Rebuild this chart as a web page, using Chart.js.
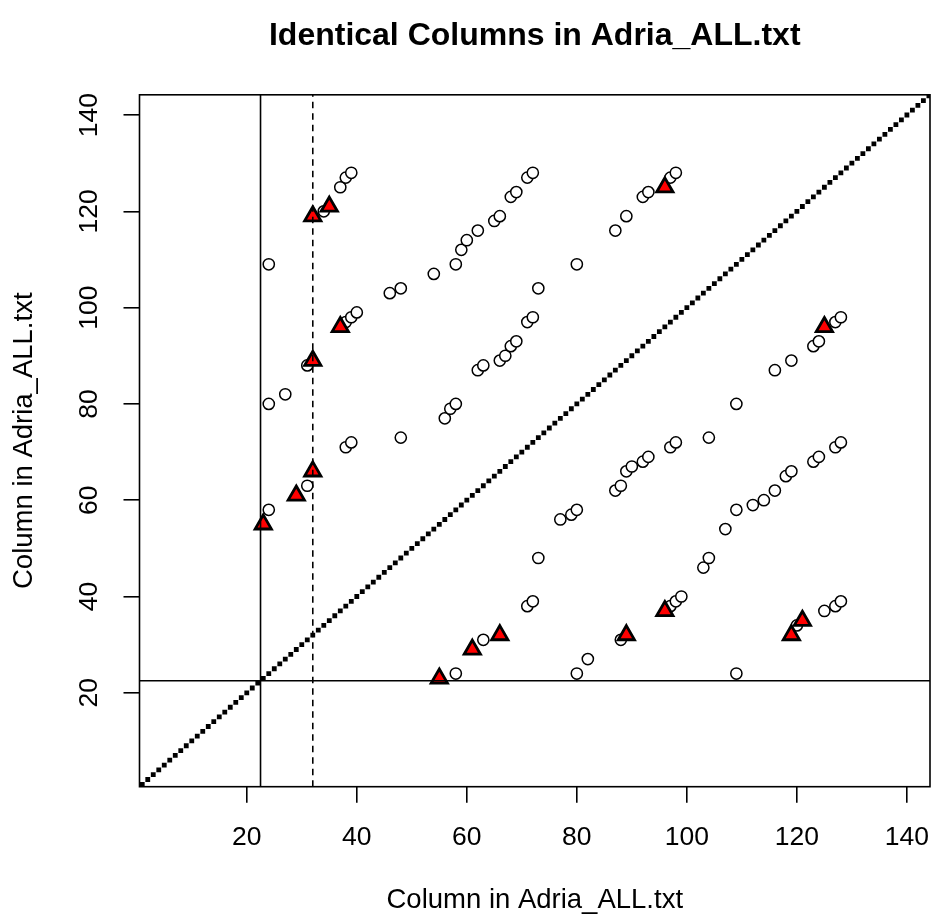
<!DOCTYPE html>
<html>
<head>
<meta charset="utf-8">
<script src="https://cdn.jsdelivr.net/npm/chart.js@4.4.1/dist/chart.umd.min.js"></script>
<style>
html,body{margin:0;padding:0;background:#fff;}
#wrap{width:933px;height:917px;}
</style>
</head>
<body>
<div id="wrap"><canvas id="c" width="933" height="917"></canvas></div>
<script>
// ---------- data ----------
const mainTitle = "Identical Columns in Adria_ALL.txt";
const xTitle = "Column in Adria_ALL.txt";
const yTitle = "Column in Adria_ALL.txt";
const xTicks = [20, 40, 60, 80, 100, 120, 140];
const yTicks = [20, 40, 60, 80, 100, 120, 140];
const axisMin = 0.5;
const axisMax = 144.2;

// diagonal (every column identical to itself)
const diagonal = [1,2,3,4,5,6,7,8,9,10,11,12,13,14,15,16,17,18,19,20,21,22,23,24,25,26,27,28,29,30,
  31,32,33,34,35,36,37,38,39,40,41,42,43,44,45,46,47,48,49,50,51,52,53,54,55,56,57,58,59,60,
  61,62,63,64,65,66,67,68,69,70,71,72,73,74,75,76,77,78,79,80,81,82,83,84,85,86,87,88,89,90,
  91,92,93,94,95,96,97,98,99,100,101,102,103,104,105,106,107,108,109,110,111,112,113,114,115,
  116,117,118,119,120,121,122,123,124,125,126,127,128,129,130,131,132,133,134,135,136,137,138,
  139,140,141,142,143,144];

// open circles: identical column pairs
const circleX = [24,24,27,24,31,31,34,37,38,39,46,48,54,58,59,60,62,65,66,68,69,71,72,80,87,89,92,93,97,98,
  38,39,40,38,39,48,56,57,58,62,63,66,67,68,69,71,72,73,
  109,80,82,58,88,63,120,125,127,128,103,104,107,109,112,114,116,118,119,123,124,127,128,109,116,119,123,124,127,128,
  97,98,99,71,72,73,77,79,80,87,88,89,90,92,93,97,98,104];
const circleY = [109,80,82,58,88,63,120,125,127,128,103,104,107,109,112,114,116,118,119,123,124,127,128,109,116,119,123,124,127,128,
  97,98,99,71,72,73,77,79,80,87,88,89,90,92,93,97,98,104,
  24,24,27,24,31,31,34,37,38,39,46,48,54,58,59,60,62,65,66,68,69,71,72,80,87,89,92,93,97,98,
  38,39,40,38,39,48,56,57,58,62,63,66,67,68,69,71,72,73];

// red triangles: highlighted pairs
const triX = [23,29,32,32,37,32,35,96, 55,61,66,89,96,119,121,125];
const triY = [55,61,66,89,96,119,121,125, 23,29,32,32,37,32,35,96];

// reference lines
const solidV = [22.5];
const solidH = [22.5];
const dashedV = [32];

// ---------- chart ----------
const FONT = "'Liberation Sans', Arial, Helvetica, sans-serif";
Chart.defaults.color = '#000';

const pts = (xs, ys) => xs.map((x, i) => ({x: x, y: ys[i]}));
const vLine = v => [{x: v, y: axisMin}, {x: v, y: axisMax}];
const hLine = v => [{x: axisMin, y: v}, {x: axisMax, y: v}];

const datasets = [];
solidV.forEach(v => datasets.push({type:'line', data: vLine(v), borderColor:'#000', borderWidth:1.6,
  pointRadius:0, fill:false, order:0}));
solidH.forEach(v => datasets.push({type:'line', data: hLine(v), borderColor:'#000', borderWidth:1.6,
  pointRadius:0, fill:false, order:0}));
dashedV.forEach(v => datasets.push({type:'line', data: vLine(v), borderColor:'#000', borderWidth:1.6,
  borderDash:[6.5,5], pointRadius:0, fill:false, order:0}));
datasets.push({data: pts(triX, triY), pointStyle:'triangle', pointRadius:9.4, pointBackgroundColor:'#ff0000',
  pointBorderColor:'#000', pointBorderWidth:2.8, order:1});
datasets.push({data: pts(circleX, circleY), pointStyle:'circle', pointRadius:5.6, pointBackgroundColor:'#fff',
  pointBorderColor:'#000', pointBorderWidth:1.5, order:2});
datasets.push({data: pts(diagonal, diagonal), pointStyle:'rect', pointRadius:3.4, pointBackgroundColor:'#000',
  pointBorderColor:'#000', pointBorderWidth:0, order:3});

const frame = {
  id: 'frame',
  afterDraw(chart) {
    const {ctx, chartArea: a} = chart;
    ctx.save();
    ctx.strokeStyle = '#000';
    ctx.lineWidth = 1.6;
    ctx.strokeRect(a.left, a.top, a.right - a.left, a.bottom - a.top);
    ctx.fillStyle = '#000';
    ctx.font = "bold 32px " + FONT;
    ctx.textAlign = 'center';
    ctx.textBaseline = 'middle';
    ctx.fillText(mainTitle, (a.left + a.right) / 2, 36);
    ctx.restore();
  }
};

const gridOpts = {display:true, drawOnChartArea:false, drawTicks:true, tickLength:16, color:'#000', lineWidth:1.6};
const noPad = s => { s.paddingLeft = 0; s.paddingRight = 0; s.paddingTop = 0; s.paddingBottom = 0; };

new Chart(document.getElementById('c'), {
  type: 'scatter',
  data: {datasets: datasets},
  options: {
    responsive: false,
    animation: false,
    devicePixelRatio: 1,
    layout: {autoPadding: false, padding: {top: 94.8, right: 3, left: 0, bottom: 0}},
    plugins: {legend: {display:false}, tooltip: {enabled:false}, title: {display:false}},
    scales: {
      x: {
        type: 'linear', position: 'bottom', min: axisMin, max: axisMax,
        afterBuildTicks: s => { s.ticks = xTicks.map(v => ({value: v})); },
        afterFit: s => { s.height = 917 - 786.7; noPad(s); },
        grid: gridOpts,
        border: {display:false},
        ticks: {font: {family: FONT, size: 26.5}, padding: 19, minRotation:0, maxRotation:0, autoSkip:false, color:'#000'},
        title: {display:true, text: xTitle, font: {family: FONT, size: 27.5}, color:'#000', padding: {top:0, bottom:0}}
      },
      y: {
        type: 'linear', position: 'left', min: axisMin, max: axisMax,
        afterBuildTicks: s => { s.ticks = yTicks.map(v => ({value: v})); },
        afterFit: s => { s.width = 139.5; noPad(s); },
        grid: gridOpts,
        border: {display:false},
        ticks: {font: {family: FONT, size: 26.5}, padding: 12, minRotation:90, maxRotation:90, crossAlign:'center', autoSkip:false, color:'#000'},
        title: {display:true, text: yTitle, font: {family: FONT, size: 27.5}, color:'#000', padding: {top:8, bottom:0}}
      }
    }
  },
  plugins: [frame]
});
</script>
</body>
</html>
